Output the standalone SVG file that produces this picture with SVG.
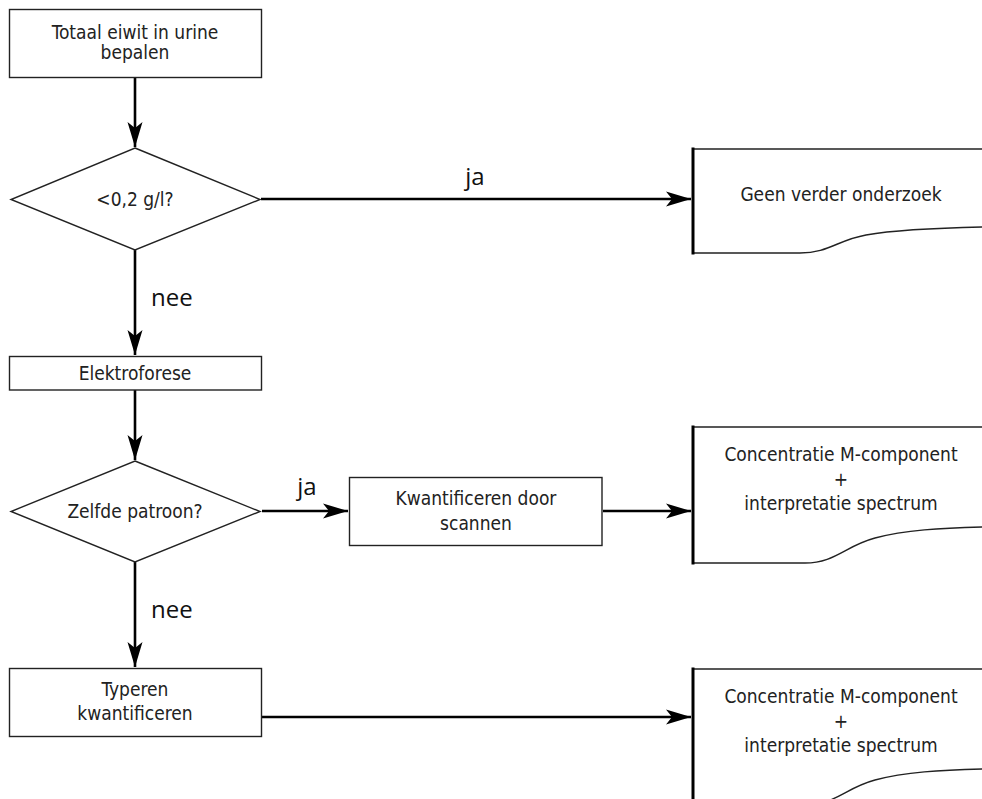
<svg xmlns="http://www.w3.org/2000/svg" width="982" height="799" viewBox="0 0 982 799">
  <style>
    .box { fill: #ffffff; stroke: #222222; stroke-width: 1.4; }
    .doc { fill: #ffffff; stroke: #222222; stroke-width: 1.4; }
    .docedge { fill: none; stroke: #000000; stroke-width: 3; }
    .lbl { font-family: "DejaVu Sans Condensed", "DejaVu Sans", sans-serif; font-stretch: condensed; font-size: 19px; fill: #222222; text-anchor: middle; }
    .tag { font-family: "Open Sans", "Noto Sans", sans-serif; font-size: 24px; fill: #111111; }
    .wire { fill: none; stroke: #000000; stroke-width: 2.6; }
  </style>
  <defs>
    <marker id="arrow" markerUnits="userSpaceOnUse" viewBox="-26 -8 28 16" refX="0" refY="0" markerWidth="28" markerHeight="16" orient="auto">
      <path d="M0,0 L-25,-7.5 L-19,0 L-25,7.5 Z" fill="#000000"/>
    </marker>
  </defs>

  <!-- connectors -->
  <g id="connectors">
    <line class="wire" x1="135" y1="78" x2="135" y2="147" marker-end="url(#arrow)"/>
    <line class="wire" x1="261" y1="199" x2="691" y2="199" marker-end="url(#arrow)"/>
    <line class="wire" x1="135" y1="250" x2="135" y2="355" marker-end="url(#arrow)"/>
    <line class="wire" x1="135" y1="390" x2="135" y2="460" marker-end="url(#arrow)"/>
    <line class="wire" x1="262" y1="511" x2="348" y2="511" marker-end="url(#arrow)"/>
    <line class="wire" x1="603" y1="511" x2="691" y2="511" marker-end="url(#arrow)"/>
    <line class="wire" x1="135" y1="562" x2="135" y2="667" marker-end="url(#arrow)"/>
    <line class="wire" x1="262" y1="717" x2="691" y2="717" marker-end="url(#arrow)"/>
    <text class="tag" x="475" y="185" text-anchor="middle">ja</text>
    <text class="tag" x="151" y="306">nee</text>
    <text class="tag" x="307" y="495" text-anchor="middle">ja</text>
    <text class="tag" x="151" y="618">nee</text>
  </g>

  <!-- process: total protein -->
  <g id="totaal-eiwit">
    <rect class="box" x="9.5" y="9.5" width="252" height="68"/>
    <text class="lbl" x="135" y="39">Totaal eiwit in urine</text>
    <text class="lbl" x="135" y="59">bepalen</text>
  </g>

  <!-- decision: < 0.2 g/l -->
  <g id="drempel">
    <polygon class="box" points="135,148 260,199.5 135,250 11,199.5"/>
    <text class="lbl" x="135" y="206">&lt;0,2 g/l?</text>
  </g>

  <!-- document: no further testing -->
  <g id="geen-onderzoek">
    <path class="doc" d="M985,149 L693,149 L693,253 L800,253 C828,253 838,240 866,235 C895,230 935,228 985,227"/>
    <line class="docedge" x1="693" y1="147.5" x2="693" y2="254.5"/>
    <text class="lbl" x="841" y="201">Geen verder onderzoek</text>
  </g>

  <!-- process: electrophoresis -->
  <g id="elektroforese">
    <rect class="box" x="9.5" y="356.5" width="252" height="33.5"/>
    <text class="lbl" x="135" y="380">Elektroforese</text>
  </g>

  <!-- decision: same pattern -->
  <g id="zelfde-patroon">
    <polygon class="box" points="135,461 260,511.5 135,562 11,511.5"/>
    <text class="lbl" x="135" y="518">Zelfde patroon?</text>
  </g>

  <!-- process: quantify by scanning -->
  <g id="kwantificeren-scannen">
    <rect class="box" x="349.5" y="477.5" width="252.5" height="68"/>
    <text class="lbl" x="476" y="505">Kwantificeren door</text>
    <text class="lbl" x="476" y="530">scannen</text>
  </g>

  <!-- document: M-component result -->
  <g id="resultaat-1">
    <path class="doc" d="M985,427 L693,427 L693,563 L805,563 C835,563 845,546 875,538 C905,530 940,528 985,527"/>
    <line class="docedge" x1="693" y1="425.5" x2="693" y2="564.5"/>
    <text class="lbl" x="841" y="461">Concentratie M-component</text>
    <text class="lbl" x="841" y="486">+</text>
    <text class="lbl" x="841" y="510">interpretatie spectrum</text>
  </g>

  <!-- process: typing and quantification -->
  <g id="typeren">
    <rect class="box" x="9.5" y="668.5" width="252" height="68"/>
    <text class="lbl" x="135" y="696">Typeren</text>
    <text class="lbl" x="135" y="720">kwantificeren</text>
  </g>

  <!-- document: M-component result after typing -->
  <g id="resultaat-2">
    <path class="doc" d="M985,669 L693,669 L693,805 L805,805 C835,805 845,788 875,780 C905,772 940,770 985,769"/>
    <line class="docedge" x1="693" y1="667.5" x2="693" y2="806"/>
    <text class="lbl" x="841" y="703">Concentratie M-component</text>
    <text class="lbl" x="841" y="728">+</text>
    <text class="lbl" x="841" y="752">interpretatie spectrum</text>
  </g>
</svg>
